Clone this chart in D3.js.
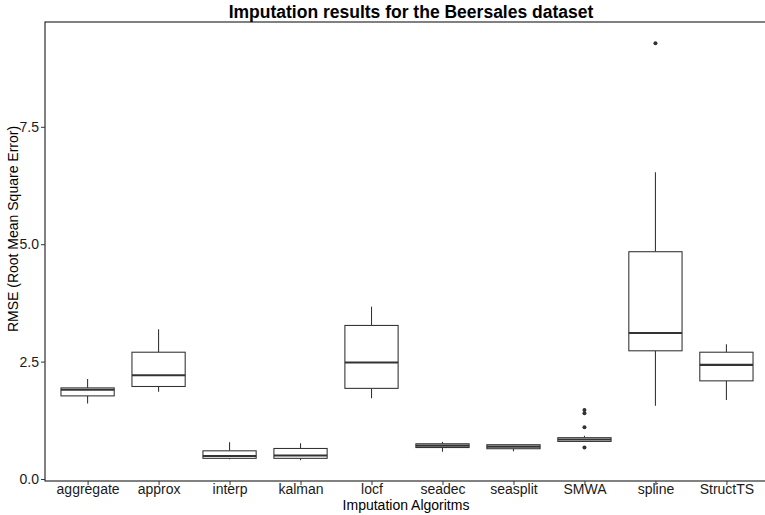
<!DOCTYPE html>
<html>
<head>
<meta charset="utf-8">
<script src="https://cdn.jsdelivr.net/npm/d3@7"></script>
<style>
  html, body { margin: 0; padding: 0; background: #fff; }
  svg { display: block; font-family: "Liberation Sans", Arial, Helvetica, sans-serif; }
</style>
</head>
<body>
<svg id="chart" width="765" height="515"></svg>
<script>
// ---- Data ----
const categories = ["aggregate", "approx", "interp", "kalman", "locf", "seadec", "seasplit", "SMWA", "spline", "StructTS"];
const whiskerLow  = [1.61, 1.86, 0.42, 0.40, 1.72, 0.58, 0.59, 0.80, 1.56, 1.68];
const q1          = [1.77, 1.97, 0.44, 0.44, 1.93, 0.67, 0.645, 0.80, 2.73, 2.09];
const median      = [1.90, 2.21, 0.49, 0.50, 2.48, 0.71, 0.69, 0.84, 3.11, 2.43];
const q3          = [1.94, 2.70, 0.60, 0.65, 3.27, 0.75, 0.73, 0.88, 4.84, 2.70];
const whiskerHigh = [2.13, 3.19, 0.78, 0.76, 3.67, 0.79, 0.745, 0.92, 6.53, 2.87];
const outlierCategory = ["SMWA", "SMWA", "SMWA", "SMWA", "spline"];
const outlierValue    = [1.47, 1.40, 1.10, 0.67, 9.28];
const yTicks = [0, 2.5, 5, 7.5];
const titleText = "Imputation results for the Beersales dataset";
const xTitle = "Imputation Algoritms";
const yTitle = "RMSE (Root Mean Square Error)";

// ---- Layout ----
const svg = d3.select("#chart");
const pLeft = 45, pRight = 769, pTop = 22, pBottom = 481;

const x = d3.scalePoint().domain(categories).range([pLeft, pRight]).padding(0.6);
const y = d3.scaleLinear().domain([-0.0426, 9.732]).range([pBottom, pTop]);
const boxW = x.step() * 0.75;

const boxes = categories.map((c, i) => ({
  c, lo: whiskerLow[i], q1: q1[i], med: median[i], q3: q3[i], hi: whiskerHigh[i]
}));

const ink = "#333333";

// Panel border
svg.append("rect")
  .attr("x", pLeft).attr("y", pTop)
  .attr("width", pRight - pLeft).attr("height", pBottom - pTop)
  .attr("fill", "none").attr("stroke", "#1a1a1a").attr("stroke-width", 1.1);

const g = svg.append("g");

// whiskers
g.selectAll("line.wu").data(boxes).join("line")
  .attr("class", "wu")
  .attr("x1", d => x(d.c)).attr("x2", d => x(d.c))
  .attr("y1", d => y(d.q3)).attr("y2", d => y(d.hi))
  .attr("stroke", ink).attr("stroke-width", 1.07);
g.selectAll("line.wl").data(boxes).join("line")
  .attr("class", "wl")
  .attr("x1", d => x(d.c)).attr("x2", d => x(d.c))
  .attr("y1", d => y(d.q1)).attr("y2", d => y(d.lo))
  .attr("stroke", ink).attr("stroke-width", 1.07);

// boxes
g.selectAll("rect.box").data(boxes).join("rect")
  .attr("class", "box")
  .attr("x", d => x(d.c) - boxW / 2).attr("width", boxW)
  .attr("y", d => y(d.q3)).attr("height", d => y(d.q1) - y(d.q3))
  .attr("fill", "#fff").attr("stroke", ink).attr("stroke-width", 1.07);

// medians
g.selectAll("line.med").data(boxes).join("line")
  .attr("class", "med")
  .attr("x1", d => x(d.c) - boxW / 2).attr("x2", d => x(d.c) + boxW / 2)
  .attr("y1", d => y(d.med)).attr("y2", d => y(d.med))
  .attr("stroke", ink).attr("stroke-width", 2.1);

// outliers
g.selectAll("circle.out").data(outlierValue.map((v, i) => ({ c: outlierCategory[i], v }))).join("circle")
  .attr("class", "out")
  .attr("cx", d => x(d.c)).attr("cy", d => y(d.v)).attr("r", 2)
  .attr("fill", ink);

// Axes
const yAxis = svg.append("g")
  .attr("transform", `translate(${pLeft},0)`)
  .call(d3.axisLeft(y).tickValues(yTicks).tickFormat(d3.format(".1f")).tickSize(4).tickPadding(2));
yAxis.select(".domain").remove();
yAxis.selectAll("text").attr("font-size", 14).attr("fill", "#1a1a1a").attr("font-family", null);
yAxis.selectAll("line").attr("stroke", "#333");

const xAxis = svg.append("g")
  .attr("transform", `translate(0,${pBottom})`)
  .call(d3.axisBottom(x).tickSize(4).tickPadding(0));
xAxis.select(".domain").remove();
xAxis.selectAll("text").attr("font-size", 14).attr("fill", "#1a1a1a").attr("font-family", null)
  .attr("dy", "0.66em");
xAxis.selectAll("line").attr("stroke", "#333");

// Titles
svg.append("text")
  .attr("x", 411).attr("y", 18)
  .attr("text-anchor", "middle")
  .attr("font-size", 17.5).attr("font-weight", "bold").attr("fill", "#000")
  .text(titleText);

svg.append("text")
  .attr("x", 406).attr("y", 510)
  .attr("text-anchor", "middle")
  .attr("font-size", 14).attr("fill", "#000")
  .text(xTitle);

svg.append("text")
  .attr("transform", `translate(18,229) rotate(-90)`)
  .attr("text-anchor", "middle")
  .attr("font-size", 14).attr("fill", "#000")
  .text(yTitle);
</script>
</body>
</html>
